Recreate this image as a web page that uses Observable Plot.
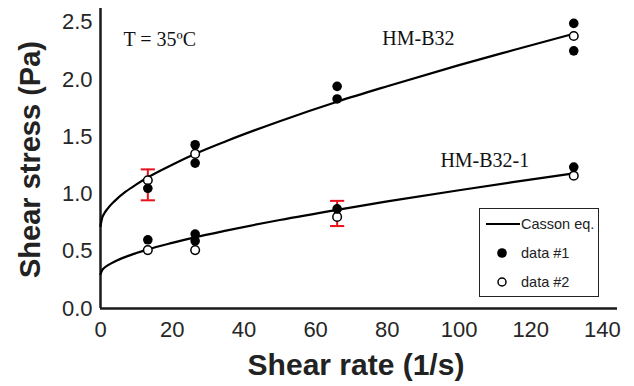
<!DOCTYPE html>
<html>
<head>
<meta charset="utf-8">
<script src="https://cdn.jsdelivr.net/npm/d3@7"></script>
<script src="https://cdn.jsdelivr.net/npm/@observablehq/plot@0.6"></script>
<style>
  body { margin: 0; background: #fff; }
  #wrap { position: relative; width: 634px; height: 386px; }
  #legend {
    position: absolute; left: 479px; top: 208px; width: 118px; height: 87px;
    border: 1.3px solid #222; background: #fff; box-sizing: content-box;
    font-family: "Liberation Sans", Arial, sans-serif; font-size: 14px; color: #222;
  }
  #legend svg { position: absolute; left: 0; top: 0; }
</style>
</head>
<body>
<div id="wrap"></div>
<script>
// ---- data ----
const xTicks = [0, 20, 40, 60, 80, 100, 120, 140];
const yTicks = [0, 0.5, 1.0, 1.5, 2.0, 2.5];

// HM-B32
const b32Data1 = [
  {x: 13.2, y: 1.05}, {x: 26.4, y: 1.43}, {x: 26.4, y: 1.27},
  {x: 66, y: 1.94}, {x: 66, y: 1.83}, {x: 132, y: 2.49}, {x: 132, y: 2.25}
];
const b32Data2 = [
  {x: 13.2, y: 1.12}, {x: 26.4, y: 1.35}, {x: 132, y: 2.38}
];
const b32Casson = [
  {x: 0, y: 0.72}, {x: 0.5, y: 0.795}, {x: 1, y: 0.827}, {x: 2, y: 0.873},
  {x: 4, y: 0.94}, {x: 7, y: 1.02}, {x: 10, y: 1.084}, {x: 13, y: 1.142},
  {x: 20, y: 1.256}, {x: 26, y: 1.345}, {x: 35, y: 1.461}, {x: 50, y: 1.636},
  {x: 66, y: 1.806}, {x: 80, y: 1.941}, {x: 100, y: 2.125}, {x: 115, y: 2.255},
  {x: 132, y: 2.40}
];

// HM-B32-1
const b321Data1 = [
  {x: 13.2, y: 0.60}, {x: 26.4, y: 0.65}, {x: 26.4, y: 0.59},
  {x: 66, y: 0.87}, {x: 132, y: 1.235}
];
const b321Data2 = [
  {x: 13.2, y: 0.51}, {x: 26.4, y: 0.51}, {x: 66, y: 0.80}, {x: 132, y: 1.16}
];
const b321Casson = [
  {x: 0, y: 0.30}, {x: 0.5, y: 0.337}, {x: 1, y: 0.354}, {x: 2, y: 0.377},
  {x: 4, y: 0.411}, {x: 7, y: 0.451}, {x: 10, y: 0.484}, {x: 13, y: 0.514},
  {x: 20, y: 0.573}, {x: 26, y: 0.619}, {x: 35, y: 0.680}, {x: 50, y: 0.773},
  {x: 66, y: 0.862}, {x: 80, y: 0.935}, {x: 100, y: 1.033}, {x: 115, y: 1.103},
  {x: 132, y: 1.18}
];

// error bars (red)
const errorBars = [
  {x: 13.2, lo: 0.945, hi: 1.215},
  {x: 66, lo: 0.72, hi: 0.94}
];

// annotations
const annotations = [
  {x: 6.4, y: 2.35, text: "T = 35ºC"},
  {x: 78.6, y: 2.36, text: "HM-B32"},
  {x: 94.8, y: 1.29, text: "HM-B32-1"}
];

const legendItems = ["Casson eq.", "data #1", "data #2"];
const xLabel = "Shear rate (1/s)";
const yLabel = "Shear stress (Pa)";

// ---- chart ----
const capSymbol = {
  draw(ctx, size) {
    const w = Math.sqrt(size);
    ctx.moveTo(-w, 0);
    ctx.lineTo(w, 0);
  }
};
const ink = "#1a1a1a";
const errTops = errorBars.map(d => ({x: d.x, y: d.hi}));
const errBots = errorBars.map(d => ({x: d.x, y: d.lo}));

const chart = Plot.plot({
  width: 634,
  height: 386,
  marginLeft: 100,
  marginRight: 17,
  marginTop: 8,
  marginBottom: 78,
  style: {fontFamily: "'Liberation Sans', Arial, sans-serif", color: ink, background: "#fff", overflow: "visible"},
  x: {domain: [0, 144.2]},
  y: {domain: [0, 2.62]},
  marks: [
    Plot.axisX({ticks: xTicks, tickSize: 0, tickPadding: 13, fontSize: 22, label: null, fill: "#262626"}),
    Plot.axisY({ticks: yTicks, tickSize: 0, tickPadding: 8, fontSize: 22, label: null, fill: "#262626",
      tickFormat: d => d.toFixed(1)}),
    Plot.ruleY([0], {stroke: ink, strokeWidth: 2.5}),
    Plot.ruleX([0], {stroke: ink, strokeWidth: 2.5}),
    Plot.line(b32Casson, {x: "x", y: "y", stroke: "#000", strokeWidth: 2.2, curve: "monotone-x"}),
    Plot.line(b321Casson, {x: "x", y: "y", stroke: "#000", strokeWidth: 2.2, curve: "monotone-x"}),
    Plot.ruleX(errorBars, {x: "x", y1: "lo", y2: "hi", stroke: "#e8101a", strokeWidth: 2}),
    Plot.dot(errTops, {x: "x", y: "y", symbol: capSymbol, r: 4, stroke: "#e8101a", strokeWidth: 2}),
    Plot.dot(errBots, {x: "x", y: "y", symbol: capSymbol, r: 4, stroke: "#e8101a", strokeWidth: 2}),
    Plot.dot(b32Data2, {x: "x", y: "y", r: 4.3, fill: "#fff", stroke: "#000", strokeWidth: 1.5}),
    Plot.dot(b321Data2, {x: "x", y: "y", r: 4.3, fill: "#fff", stroke: "#000", strokeWidth: 1.5}),
    Plot.dot(b32Data1, {x: "x", y: "y", r: 4.8, fill: "#000"}),
    Plot.dot(b321Data1, {x: "x", y: "y", r: 4.8, fill: "#000"}),
    Plot.text(annotations, {x: "x", y: "y", text: "text", textAnchor: "start", lineAnchor: "middle",
      fontFamily: "'Liberation Serif', 'Times New Roman', serif", fontSize: 20, fill: "#111"}),
    Plot.text([xLabel], {text: d => d, frameAnchor: "bottom", dx: -3, dy: 57, lineAnchor: "middle",
      textAnchor: "middle", fontSize: 30, fontWeight: "bold", fill: "#222"}),
    Plot.text([yLabel], {text: d => d, frameAnchor: "left", dx: -70, dy: 1, rotate: -90, lineAnchor: "middle",
      textAnchor: "middle", fontSize: 29, fontWeight: "bold", fill: "#222"})
  ]
});

const wrap = document.getElementById("wrap");
wrap.appendChild(chart);

// legend
const legend = document.createElement("div");
legend.id = "legend";
const ls = d3.create("svg").attr("width", 118).attr("height", 87);
ls.append("line").attr("x1", 6).attr("x2", 40).attr("y1", 15).attr("y2", 15)
  .attr("stroke", "#000").attr("stroke-width", 2.2);
ls.append("circle").attr("cx", 22).attr("cy", 44).attr("r", 4.8).attr("fill", "#000");
ls.append("circle").attr("cx", 22).attr("cy", 73).attr("r", 4).attr("fill", "#fff")
  .attr("stroke", "#000").attr("stroke-width", 1.5);
const ys = [15, 44, 73];
legendItems.forEach((t, i) => {
  ls.append("text").attr("x", 41).attr("y", ys[i]).attr("dy", "0.35em")
    .attr("font-family", "'Liberation Sans', Arial, sans-serif").attr("font-size", 14.5)
    .attr("fill", "#222").text(t);
});
legend.appendChild(ls.node());
wrap.appendChild(legend);
</script>
</body>
</html>
